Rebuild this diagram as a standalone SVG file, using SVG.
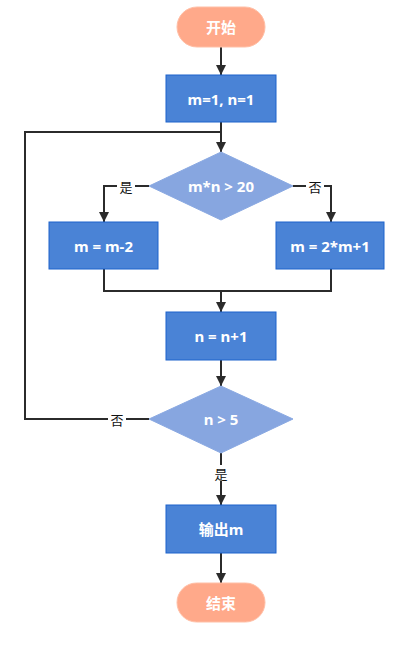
<svg xmlns="http://www.w3.org/2000/svg" width="410" height="648" viewBox="0 0 410 648">
<style>
.term{fill:#FFA98A;stroke:#FFBFA6;stroke-width:1}
.proc{fill:#4A83D6;stroke:#1C63CC;stroke-width:1}
.dec{fill:#87A6E0;stroke:#8AA9E2;stroke-width:1}
.t{fill:#FFFFFF;font-family:"Noto Sans","Noto Sans CJK SC",sans-serif;font-size:15px;font-weight:bold;text-anchor:middle;dominant-baseline:central}
.lbl{fill:#111111;font-family:"Noto Sans CJK SC",sans-serif;font-size:13px;text-anchor:middle;dominant-baseline:central}
.edge{fill:none;stroke:#2B2B2B;stroke-width:2}
</style>
<defs>
<marker id="arr" viewBox="0 0 10 10" refX="10" refY="5" markerWidth="5" markerHeight="6" markerUnits="strokeWidth" orient="auto">
<path d="M0,0 L10,5 L0,10 z" fill="#2B2B2B"/>
</marker>
</defs>
<g id="connectors">
<path class="edge" d="M221,47 V75" marker-end="url(#arr)"/>
<path class="edge" d="M221,122 V152" marker-end="url(#arr)"/>
<path class="edge" d="M149,186 H104 V222" marker-end="url(#arr)"/>
<path class="edge" d="M293,186 H331 V222" marker-end="url(#arr)"/>
<path class="edge" d="M104,269 V291 H331 V269"/>
<path class="edge" d="M221,291 V312" marker-end="url(#arr)"/>
<path class="edge" d="M221,360 V386" marker-end="url(#arr)"/>
<path class="edge" d="M149,419 H25 V132 H221"/>
<path class="edge" d="M221,453 V505" marker-end="url(#arr)"/>
<path class="edge" d="M221,553 V583" marker-end="url(#arr)"/>
<rect x="117" y="178" width="18" height="16" fill="#FFFFFF"/>
<text class="lbl" x="126" y="186">是</text>
<rect x="306" y="178" width="18" height="16" fill="#FFFFFF"/>
<text class="lbl" x="315" y="186">否</text>
<rect x="108" y="411" width="18" height="16" fill="#FFFFFF"/>
<text class="lbl" x="117" y="419">否</text>
<rect x="212" y="465" width="18" height="16" fill="#FFFFFF"/>
<text class="lbl" x="221" y="473">是</text>
</g>
<g id="start">
<rect class="term" x="177" y="7" width="88" height="40" rx="20" ry="20"/>
<text class="t" x="221" y="27">开始</text>
</g>
<g id="init">
<rect class="proc" x="166" y="75" width="110" height="47"/>
<text class="t" x="221" y="98.5">m=1, n=1</text>
</g>
<g id="cond1">
<polygon class="dec" points="221,152 293,186 221,220 149,186"/>
<text class="t" x="221" y="186">m*n &gt; 20</text>
</g>
<g id="left">
<rect class="proc" x="49" y="222" width="109" height="47"/>
<text class="t" x="103.5" y="245.5">m = m-2</text>
</g>
<g id="right">
<rect class="proc" x="276" y="222" width="108" height="47"/>
<text class="t" x="330" y="245.5">m = 2*m+1</text>
</g>
<g id="incr">
<rect class="proc" x="166" y="312" width="110" height="48"/>
<text class="t" x="221" y="336">n = n+1</text>
</g>
<g id="cond2">
<polygon class="dec" points="221,386 293,419 221,453 149,419"/>
<text class="t" x="221" y="419">n &gt; 5</text>
</g>
<g id="output">
<rect class="proc" x="166" y="505" width="110" height="48"/>
<text class="t" x="221" y="529">输出m</text>
</g>
<g id="end">
<rect class="term" x="177" y="583" width="88" height="39" rx="19.5" ry="19.5"/>
<text class="t" x="221" y="602.5">结束</text>
</g>
</svg>
